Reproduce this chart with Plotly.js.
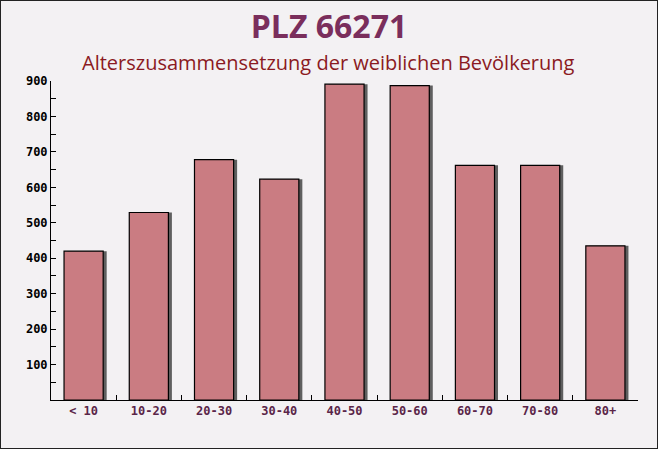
<!DOCTYPE html>
<html>
<head>
<meta charset="utf-8">
<script src="https://cdn.plot.ly/plotly-3.0.1.min.js"></script>
<style>
html, body { margin: 0; padding: 0; background: #f3f1f3; }
#wrap { position: relative; width: 658px; height: 449px; }
#chart { width: 658px; height: 449px; }
#frame { position: absolute; left: 0; top: 0; width: 658px; height: 449px; box-sizing: border-box; border: 1px solid #222; pointer-events: none; }
</style>
</head>
<body>
<div id="wrap"><div id="chart"></div><div id="frame"></div></div>
<script>
const categories = ["< 10", "10-20", "20-30", "30-40", "40-50", "50-60", "60-70", "70-80", "80+"];
const values = [420, 529, 678, 623, 891, 887, 662, 662, 435];
const yTickVals = [100, 200, 300, 400, 500, 600, 700, 800, 900];
const titleText = "PLZ 66271";
const subtitleText = "Alterszusammensetzung der weiblichen Bevölkerung";

const shadowLift = 8.5; // value-units equal to ~3px upward shift of the shadow

const shadow = {
  type: "bar",
  x: categories,
  y: values,
  base: -shadowLift,
  xaxis: "x",
  yaxis: "y",
  width: 0.6,
  offset: -0.3 + 3.5 / 65.3,
  marker: { color: "rgb(95,95,95)", line: { width: 0 } },
  hoverinfo: "skip",
  showlegend: false
};

const bars = {
  type: "bar",
  x: categories,
  y: values,
  xaxis: "x",
  yaxis: "y2",
  width: 0.6,
  offset: -0.3,
  marker: { color: "rgb(202,124,130)", line: { color: "#000", width: 1.2 } },
  showlegend: false
};

const layout = {
  width: 658,
  height: 449,
  margin: { l: 51, r: 20, t: 81, b: 49 },
  paper_bgcolor: "#f3f1f3",
  plot_bgcolor: "rgba(0,0,0,0)",
  title: {
    text: "<b>" + titleText + "</b>",
    font: { family: "Open Sans", size: 32, color: "#7a2e5c" },
    x: 0.5, xref: "container", xanchor: "center",
    y: 1 - 27 / 449, yref: "container", yanchor: "middle"
  },
  annotations: [{
    text: subtitleText,
    xref: "paper", yref: "paper",
    x: (328 - 51) / 587, y: (400 - 62) / 319,
    xanchor: "center", yanchor: "middle",
    showarrow: false,
    font: { family: "Open Sans", size: 20, color: "#8b1a22" }
  }],
  xaxis: {
    type: "category",
    range: [-0.5, 8.5],
    showline: true, linecolor: "#000", linewidth: 1,
    ticks: "inside", tickson: "boundaries", ticklen: 5, tickcolor: "#000",
    showgrid: false, zeroline: false,
    tickfont: { family: "DejaVu Sans Mono", size: 12, color: "#5a2548", weight: "bold" },
    fixedrange: true
  },
  yaxis: {
    range: [-shadowLift, 900 - shadowLift],
    visible: false,
    showgrid: false, zeroline: false,
    fixedrange: true
  },
  yaxis2: {
    overlaying: "y",
    side: "left",
    range: [0, 900],
    showline: true, linecolor: "#000", linewidth: 1,
    tickvals: yTickVals,
    ticks: "inside", ticklen: 5, tickcolor: "#000",
    minor: { dtick: 50, ticks: "inside", ticklen: 5, tickcolor: "#000", showgrid: false },
    showgrid: false, zeroline: false,
    tickfont: { family: "DejaVu Sans Mono", size: 12, color: "#000", weight: "bold" },
    fixedrange: true
  },
  bargap: 0.4
};

Plotly.newPlot("chart", [shadow, bars], layout, { displayModeBar: false, staticPlot: true });
</script>
</body>
</html>
